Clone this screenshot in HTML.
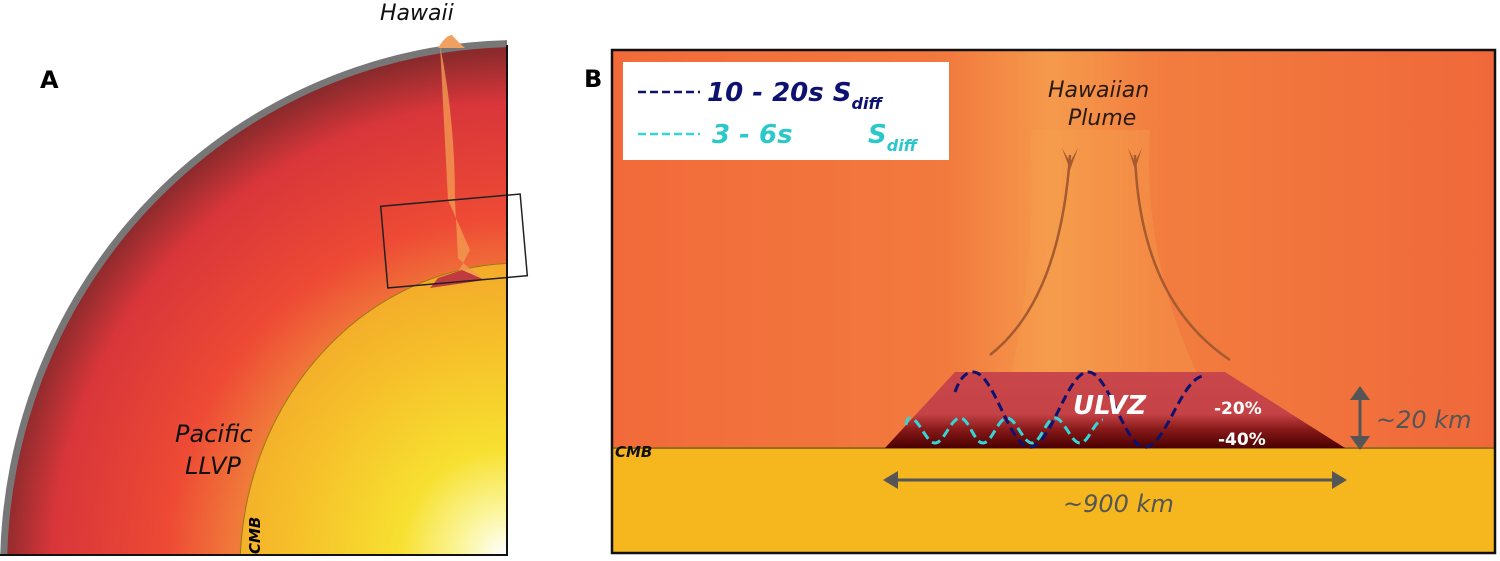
<!DOCTYPE html>
<html><head><meta charset="utf-8"><style>
html,body{margin:0;padding:0;background:#fff;overflow:hidden;width:1500px;height:561px;}
svg{display:block;font-family:"DejaVu Sans","Liberation Sans",sans-serif;}
</style></head><body>
<svg width="1500" height="561" viewBox="0 0 1500 561" xmlns="http://www.w3.org/2000/svg">
<defs>
<clipPath id="ca"><rect x="0" y="0" width="507" height="555"/></clipPath>
<radialGradient id="core" cx="505" cy="555" r="300" gradientUnits="userSpaceOnUse">
<stop offset="0" stop-color="#ffffff"/><stop offset="0.15" stop-color="#fbf59a"/><stop offset="0.35" stop-color="#f7e030"/><stop offset="0.7" stop-color="#f6c02a"/><stop offset="1" stop-color="#f3a82a"/></radialGradient>
<radialGradient id="mant" cx="520" cy="570" r="520" gradientUnits="userSpaceOnUse">
<stop offset="0.55" stop-color="#f07a3a"/><stop offset="0.68" stop-color="#ee4a35"/><stop offset="0.9" stop-color="#d8363a"/><stop offset="1" stop-color="#8a2a2c"/></radialGradient>
<linearGradient id="ulvz" x1="0" y1="372" x2="0" y2="448" gradientUnits="userSpaceOnUse">
<stop offset="0" stop-color="#c9474a"/><stop offset="0.55" stop-color="#c54346"/><stop offset="0.75" stop-color="#8a1a1a"/><stop offset="1" stop-color="#4a0000"/></linearGradient>
<linearGradient id="plume" x1="612" y1="0" x2="1495" y2="0" gradientUnits="userSpaceOnUse">
<stop offset="0" stop-color="#f26a3a"/><stop offset="0.38" stop-color="#f27a3e"/><stop offset="0.5" stop-color="#f59a4c"/><stop offset="0.62" stop-color="#f27d3f"/><stop offset="1" stop-color="#f0683a"/></linearGradient>
</defs>
<!-- Panel A -->
<g clip-path="url(#ca)">
<ellipse cx="520" cy="570" rx="520" ry="530" fill="#777"/>
<ellipse cx="520" cy="570" rx="513" ry="523" fill="url(#mant)"/>
<ellipse cx="520" cy="570" rx="280" ry="307" fill="url(#core)"/>
<ellipse cx="520" cy="570" rx="280" ry="307" fill="none" stroke="#9a7a10" stroke-width="1"/>
<path d="M440 45 Q455 120 455 200 L458 258 Q470 270 480 275 L455 278 L470 250 L448 200" fill="#f39a50" opacity="0.8"/>
</g>
<path d="M438 48 Q446 35 452 35 Q456 40 465 48 Z" fill="#f0a060"/>
<polygon points="438,278 462,270 485,280 430,288" fill="#c03a40"/>
<rect x="384" y="200" width="140" height="82" fill="none" stroke="#222" stroke-width="1.5" transform="rotate(-5 454 241)"/>
<line x1="507" y1="45" x2="507" y2="556" stroke="#111" stroke-width="2"/>
<line x1="0" y1="555" x2="508" y2="555" stroke="#111" stroke-width="2"/>
<text x="40" y="88" font-size="24" font-weight="bold" fill="#000">A</text>
<text x="380" y="20" font-size="22" font-style="italic" fill="#111">Hawaii</text>
<text x="175" y="442" font-size="24" font-style="italic" fill="#111">Pacific</text>
<text x="185" y="474" font-size="24" font-style="italic" fill="#111">LLVP</text>
<text transform="translate(260 554) rotate(-90)" font-size="15" font-weight="bold" font-style="italic" fill="#000">CMB</text>
<!-- Panel B -->
<rect x="612" y="50" width="883" height="398" fill="url(#plume)"/>
<path d="M990 448 Q1040 300 1030 130 L1150 130 Q1140 300 1240 448 Z" fill="#f5a04e" opacity="0.35"/>
<rect x="612" y="448" width="883" height="105" fill="#f6b71e"/>
<line x1="612" y1="448" x2="1495" y2="448" stroke="#9a6a20" stroke-width="2"/>
<polygon points="955,372 1225,372 1345,448 885,448" fill="url(#ulvz)"/>
<path d="M990 355 Q1060 300 1070 155" fill="none" stroke="#a65a30" stroke-width="2.5"/>
<path d="M1230 360 Q1140 300 1135 155" fill="none" stroke="#a65a30" stroke-width="2.5"/>
<polygon points="1062,148 1070,162 1078,148 1070,170" fill="#a65a30"/>
<polygon points="1128,148 1135,162 1142,148 1135,170" fill="#a65a30"/>
<path d="M955,392 C960,378 966,372 973,372 C994,372 1009,447 1030,447 C1051,447 1067,372 1088,372 C1109,372 1124,447 1145,447 C1166,447 1182,375 1205,376" fill="none" stroke="#0d1170" stroke-width="3" stroke-dasharray="9,5"/>
<path d="M906,425 C907,420 908,418 910,418 C919,418 926,443 935,443 C944,443 951,418 960,418 C969,418 974,443 983,443 C992,443 998,418 1007,418 C1016,418 1023,443 1032,443 C1041,443 1046,418 1055,418 C1064,418 1071,443 1080,443 C1089,443 1094,420 1103,420" fill="none" stroke="#34d6d8" stroke-width="3" stroke-dasharray="9,5"/>
<text x="1073" y="414" font-size="26" font-weight="bold" font-style="italic" fill="#fff">ULVZ</text>
<text x="1214" y="414" font-size="17" font-weight="bold" fill="#fff">-20%</text>
<text x="1218" y="445" font-size="17" font-weight="bold" fill="#fff">-40%</text>
<text x="615" y="457" font-size="15" font-weight="bold" font-style="italic" fill="#111">CMB</text>
<line x1="1360" y1="394" x2="1360" y2="441" stroke="#555" stroke-width="3"/>
<polygon points="1350,400 1360,386 1370,400" fill="#555"/>
<polygon points="1350,436 1360,450 1370,436" fill="#555"/>
<text x="1376" y="428" font-size="24" font-style="italic" fill="#555">~20 km</text>
<line x1="895" y1="480" x2="1335" y2="480" stroke="#555" stroke-width="3"/>
<polygon points="898,471 883,480 898,489" fill="#555"/>
<polygon points="1332,471 1347,480 1332,489" fill="#555"/>
<text x="1063" y="512" font-size="24" font-style="italic" fill="#555">~900 km</text>
<text x="1048" y="97" font-size="22" font-style="italic" fill="#2a1a10">Hawaiian</text>
<text x="1068" y="125" font-size="22" font-style="italic" fill="#2a1a10">Plume</text>
<rect x="623" y="62" width="326" height="98" fill="#fff"/>
<line x1="638" y1="92" x2="700" y2="92" stroke="#0d1170" stroke-width="2.5" stroke-dasharray="8,4"/>
<text x="707" y="101" font-size="26" font-weight="bold" font-style="italic" fill="#0d1170">10 - 20s S<tspan font-size="16" dy="8">diff</tspan></text>
<line x1="638" y1="134" x2="700" y2="134" stroke="#34d6d8" stroke-width="2.5" stroke-dasharray="8,4"/>
<text x="712" y="143" font-size="26" font-weight="bold" font-style="italic" fill="#2cc7c9">3 - 6s</text>
<text x="868" y="143" font-size="26" font-weight="bold" font-style="italic" fill="#2cc7c9">S<tspan font-size="16" dy="8">diff</tspan></text>
<rect x="612" y="50" width="883" height="503" fill="none" stroke="#111" stroke-width="2.5"/>
<text x="584" y="87" font-size="24" font-weight="bold" fill="#000">B</text>
</svg>
</body></html>
